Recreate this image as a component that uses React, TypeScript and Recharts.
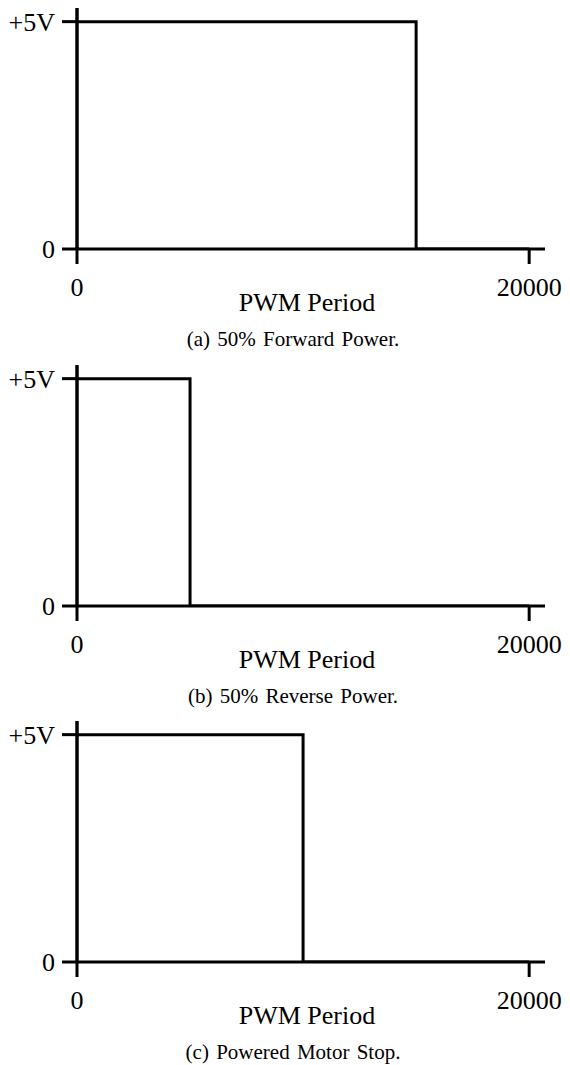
import { LineChart, Line, XAxis, YAxis, Label, ReferenceLine } from 'recharts';

// PWM time axis (counter ticks) and output level for each case
const pwmTimes = [0, 15000, 20000];
const forwardLevels = [5, 0, 0];
const reverseTimes = [0, 5000, 20000];
const reverseLevels = [5, 0, 0];
const stopTimes = [0, 10000, 20000];
const stopLevels = [5, 0, 0];

const xTicks = [0, 20000];
const yTicks = [0, 5];
const yTickLabels = ['0', '+5V'];
const yTop = 5.3;

const captions = [
  '(a) 50% Forward Power.',
  '(b) 50% Reverse Power.',
  '(c) Powered Motor Stop.',
];

const FONT = '"Liberation Serif", "Times New Roman", serif';
const PANEL_H = 357;

const buildData = (times: number[], levels: number[]) =>
  times.map((t, i) => ({ t, v: levels[i] }));

const panels = [
  buildData(pwmTimes, forwardLevels),
  buildData(reverseTimes, reverseLevels),
  buildData(stopTimes, stopLevels),
];

const axisStroke = { stroke: '#000', strokeWidth: 3 };
const tickStyle = { fill: '#000', fontSize: 26, fontFamily: FONT };

function PwmPanel({ data, top, caption }: { data: { t: number; v: number }[]; top: number; caption: string }) {
  return (
    <div style={{ position: 'absolute', left: 0, top, width: 570, height: PANEL_H, fontFamily: FONT }}>
      <LineChart width={570} height={PANEL_H} data={data} margin={{ top: 8, right: 25, bottom: 0, left: 0 }}>
        <XAxis
          dataKey="t"
          type="number"
          domain={[0, 20700]}
          allowDataOverflow
          ticks={xTicks}
          interval={0}
          height={108}
          tickSize={15}
          tickMargin={14}
          axisLine={axisStroke}
          tickLine={axisStroke}
          tick={tickStyle}
        >
          <Label
            value="PWM Period"
            position="insideBottom"
            offset={46}
            dx={-4}
            fill="#000"
            fontSize={26}
            fontFamily={FONT}
          />
        </XAxis>
        <YAxis
          type="number"
          domain={[0, yTop]}
          allowDataOverflow
          ticks={yTicks}
          interval={0}
          width={77}
          tickSize={15}
          tickMargin={7}
          axisLine={axisStroke}
          tickLine={axisStroke}
          tick={tickStyle}
          tickFormatter={(v: number) => yTickLabels[yTicks.indexOf(v)]}
        />
        {/* keep the vertical axis running above the +5V level */}
        <ReferenceLine
          segment={[{ x: 0, y: 0 }, { x: 0, y: yTop }]}
          stroke="#000"
          strokeWidth={3}
          ifOverflow="visible"
        />
        <Line
          type="stepAfter"
          dataKey="v"
          stroke="#000"
          strokeWidth={3}
          dot={false}
          isAnimationActive={false}
        />
      </LineChart>
      <div
        style={{
          position: 'absolute',
          left: 0,
          top: 327,
          width: 570,
          boxSizing: 'border-box',
          paddingLeft: 16,
          textAlign: 'center',
          fontSize: 21,
          lineHeight: '24px',
          wordSpacing: 2,
          color: '#000',
        }}
      >
        {caption}
      </div>
    </div>
  );
}

export default function App() {
  return (
    <div style={{ position: 'absolute', left: 0, top: 0, width: 570, height: 1065, background: '#fff' }}>
      {panels.map((d, i) => (
        <PwmPanel key={i} data={d} top={i * 356.5} caption={captions[i]} />
      ))}
    </div>
  );
}
